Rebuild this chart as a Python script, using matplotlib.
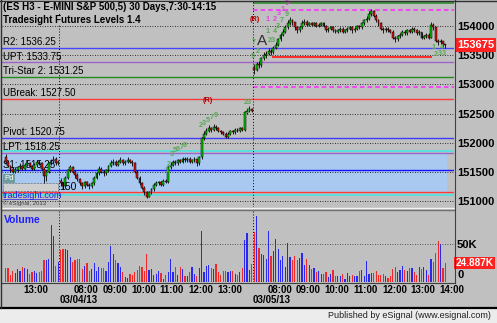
import matplotlib
matplotlib.use("Agg")
import matplotlib.pyplot as plt
from matplotlib.patches import Rectangle
from matplotlib.lines import Line2D
import numpy as np

plt.rcParams["font.family"] = ["Liberation Sans", "DejaVu Sans"]

# ---------------------------------------------------------------------------
# Data (ES H3, 5 minute bars, session 7:30-14:15)
# ---------------------------------------------------------------------------
SESSION_OPEN = 7 * 60 + 30
BARS_PER_DAY = 81

day_dates = ["03/01/13", "03/04/13", "03/05/13"]
day_first_bar = ["12:20", "07:30", "07:30"]
day_first_open = [1517.50, 1513.50, 1532.75]

close_d0 = [1516.75, 1516.00, 1515.50, 1515.00, 1515.25, 1515.75, 1516.00, 1515.50,
            1516.25, 1516.50, 1516.00, 1515.50, 1516.25, 1516.75, 1516.50, 1515.50,
            1514.25, 1515.00, 1516.50, 1516.75, 1517.25, 1516.50, 1516.75]
high_d0 = [1518.00, 1517.00, 1516.25, 1515.75, 1515.75, 1516.00, 1516.50, 1516.25,
           1516.50, 1517.00, 1516.75, 1516.25, 1516.50, 1517.00, 1517.00, 1516.75,
           1515.75, 1515.25, 1516.75, 1517.25, 1517.75, 1517.50, 1517.00]
low_d0 = [1516.50, 1515.75, 1515.00, 1514.75, 1514.75, 1515.00, 1515.50, 1515.25,
          1515.25, 1516.00, 1515.75, 1515.25, 1515.25, 1516.00, 1516.25, 1515.25,
          1512.75, 1513.50, 1514.75, 1516.25, 1516.50, 1516.25, 1516.25]
vol_d0 = [18.6, 18.6, 9.7, 14.0, 12.0, 16.8, 14.0, 20.0, 18.6, 16.8, 10.6, 13.0,
          15.0, 12.0, 13.0, 14.0, 28.7, 28.7, 31.0, 75.0, 60.5, 21.0, 26.5]

close_d1 = [1513.00, 1512.50, 1514.00, 1515.25, 1515.75, 1515.00, 1514.50,
            1513.75, 1513.00, 1512.50, 1513.25, 1512.75, 1512.50, 1513.00,
            1514.00, 1514.75, 1515.50, 1515.00, 1514.75, 1515.25, 1516.00, 1516.50,
            1516.75, 1516.25, 1516.75, 1517.00, 1516.50, 1516.75, 1517.00, 1516.75, 1516.50,
            1515.00, 1514.00, 1513.00, 1512.25, 1511.50, 1510.75, 1511.50,
            1512.00, 1512.75, 1513.00, 1513.25, 1512.75, 1513.50, 1513.25, 1515.75,
            1516.25, 1516.75, 1516.50, 1517.00, 1516.75, 1517.25, 1517.00, 1517.25,
            1516.75, 1517.00, 1517.25, 1516.50, 1517.50,
            1520.75,
            1521.50, 1522.00, 1522.50, 1522.25, 1522.75, 1522.50, 1522.00, 1521.75, 1521.50,
            1521.00, 1521.50, 1522.00, 1521.75, 1522.25, 1522.00, 1522.50, 1522.25,
            1525.25, 1525.50, 1525.75, 1525.50]
high_d1 = [1514.00, 1513.25, 1514.25, 1515.50, 1516.25, 1516.00, 1515.25,
           1514.75, 1514.00, 1513.25, 1513.50, 1513.50, 1513.00, 1513.25,
           1514.25, 1515.00, 1516.00, 1515.75, 1515.25, 1515.50, 1516.25, 1517.00,
           1517.25, 1517.00, 1517.00, 1517.50, 1517.25, 1517.00, 1517.50, 1517.25, 1517.00,
           1516.75, 1515.25, 1514.25, 1513.25, 1512.50, 1511.75, 1511.75,
           1512.25, 1513.00, 1513.50, 1513.50, 1513.50, 1513.75, 1513.75, 1516.00,
           1516.75, 1517.00, 1517.00, 1517.25, 1517.25, 1517.50, 1517.50, 1517.50,
           1517.50, 1517.25, 1517.50, 1517.25, 1517.75,
           1521.00,
           1522.00, 1522.50, 1523.00, 1522.75, 1523.25, 1523.00, 1522.75, 1522.25, 1522.00,
           1521.75, 1521.75, 1522.25, 1522.25, 1522.50, 1522.50, 1522.75, 1522.75,
           1525.50, 1526.00, 1526.25, 1526.00]
low_d1 = [1512.50, 1512.00, 1512.25, 1513.75, 1515.00, 1514.75, 1514.00,
          1513.50, 1512.75, 1512.00, 1512.25, 1512.50, 1512.00, 1512.25,
          1512.75, 1513.75, 1514.50, 1514.75, 1514.25, 1514.50, 1515.00, 1515.75,
          1516.25, 1516.00, 1516.00, 1516.50, 1516.25, 1516.25, 1516.50, 1516.50, 1516.00,
          1514.75, 1513.75, 1512.75, 1512.00, 1511.00, 1510.50, 1510.75,
          1511.25, 1511.75, 1512.50, 1512.75, 1512.50, 1512.50, 1513.00, 1513.00,
          1515.50, 1516.00, 1516.25, 1516.25, 1516.50, 1516.50, 1516.75, 1516.75,
          1516.50, 1516.50, 1516.75, 1516.00, 1516.25,
          1517.25,
          1520.50, 1521.25, 1521.75, 1521.75, 1522.00, 1522.25, 1521.75, 1521.50, 1521.25,
          1520.75, 1520.75, 1521.25, 1521.50, 1521.50, 1521.75, 1521.75, 1522.00,
          1522.00, 1525.00, 1525.25, 1525.25]
vol_d1 = [42.0, 43.8, 43.8, 42.0, 33.0, 26.5, 29.6, 31.0, 31.0, 16.8,
          20.8, 25.0, 14.6, 17.7, 25.6, 15.0, 20.0, 18.6, 18.6, 14.0,
          26.5, 47.7, 37.6, 28.7, 25.6, 19.4, 13.0, 6.6, 5.3, 10.6,
          8.8, 13.0, 15.5, 20.8, 20.0, 14.6, 36.7, 15.5, 16.8, 9.7,
          11.0, 14.6, 12.0, 4.4, 9.7, 13.0, 30.0, 13.0, 20.0, 8.8,
          20.0, 17.7, 8.0, 8.0, 13.0, 20.0, 10.0, 8.0, 18.6, 67.0,
          13.0, 20.8, 22.0, 18.6, 16.8, 24.3, 13.0, 8.8, 14.6, 14.6,
          13.0, 14.0, 14.6, 10.0, 9.7, 13.0, 19.0, 56.0, 65.0, 15.5, 24.0]

close_d2 = [1532.50, 1533.50, 1533.25, 1534.50, 1535.00,
            1535.25, 1535.75, 1535.50, 1536.25, 1536.75,
            1537.75, 1538.50, 1539.00, 1539.75, 1540.50,
            1541.00, 1540.75, 1539.75, 1539.25, 1539.75,
            1540.50, 1540.75, 1540.25, 1540.50,
            1540.25, 1540.50, 1540.00, 1540.25, 1540.50, 1540.00, 1539.25, 1539.50, 1539.75,
            1539.25, 1539.00, 1539.25, 1539.50, 1539.00, 1539.25, 1539.50,
            1539.75, 1539.25, 1539.50, 1540.00, 1539.75,
            1540.50, 1541.00, 1541.25,
            1542.00, 1542.50, 1541.75,
            1541.00, 1540.50,
            1539.50, 1539.25, 1539.50, 1539.25, 1539.00,
            1538.00, 1537.75, 1538.25, 1538.50,
            1539.00, 1538.75, 1539.25, 1539.00, 1539.50, 1539.25, 1538.75, 1539.00,
            1538.00, 1538.25, 1538.50, 1538.00,
            1540.25, 1539.75,
            1537.50,
            1537.25, 1537.50, 1537.00, 1536.75]
high_d2 = [1533.50, 1533.75, 1534.00, 1534.75, 1535.50,
           1535.75, 1536.25, 1536.00, 1536.50, 1537.25,
           1538.00, 1538.75, 1539.50, 1540.25, 1541.00,
           1541.50, 1541.25, 1540.75, 1540.00, 1540.00,
           1541.00, 1541.25, 1541.00, 1540.75,
           1540.75, 1540.75, 1540.75, 1540.50, 1540.75, 1540.75, 1540.25, 1539.75, 1540.00,
           1540.00, 1539.50, 1539.50, 1539.75, 1539.75, 1539.50, 1539.75,
           1540.00, 1540.00, 1539.75, 1540.25, 1540.25,
           1540.75, 1541.25, 1541.75,
           1542.50, 1543.00, 1542.75,
           1542.00, 1541.25,
           1540.75, 1539.75, 1539.75, 1539.75, 1539.50,
           1539.25, 1538.25, 1538.50, 1538.75,
           1539.25, 1539.25, 1539.50, 1539.50, 1539.75, 1539.75, 1539.50, 1539.25,
           1539.00, 1538.50, 1538.75, 1538.75,
           1540.75, 1540.50,
           1539.75,
           1537.75, 1537.75, 1537.50, 1537.00]
low_d2 = [1531.75, 1532.25, 1532.75, 1533.00, 1534.25,
          1534.50, 1535.00, 1535.00, 1535.25, 1536.00,
          1536.50, 1537.50, 1538.25, 1538.75, 1539.50,
          1540.25, 1540.25, 1539.25, 1538.75, 1539.00,
          1539.50, 1540.25, 1540.00, 1540.00,
          1540.00, 1540.00, 1539.75, 1539.75, 1540.00, 1539.75, 1539.00, 1539.00, 1539.25,
          1539.00, 1538.75, 1538.75, 1539.00, 1538.75, 1538.75, 1539.00,
          1539.25, 1538.75, 1539.00, 1539.25, 1539.50,
          1539.50, 1540.25, 1540.75,
          1541.00, 1541.75, 1541.50,
          1540.75, 1540.00,
          1539.25, 1538.75, 1539.00, 1539.00, 1538.75,
          1537.75, 1537.25, 1537.50, 1538.00,
          1538.25, 1538.50, 1538.50, 1538.75, 1538.75, 1539.00, 1538.50, 1538.50,
          1537.75, 1537.75, 1538.00, 1537.75,
          1538.00, 1539.25,
          1537.25,
          1536.75, 1537.00, 1536.25, 1536.25]
vol_d2 = [66.0, 87.5, 45.0, 37.6, 36.0, 30.0, 67.0, 34.5, 40.7, 56.6,
          44.0, 28.7, 34.0, 20.0, 51.7, 33.0, 28.7, 34.0, 28.7, 31.8,
          38.9, 23.0, 31.0, 23.0, 17.0, 18.6, 13.0, 14.0, 10.0, 10.0,
          13.0, 6.6, 10.0, 15.5, 8.0, 8.0, 8.0, 10.0, 4.4, 12.0, 8.0,
          8.8, 8.0, 8.0, 14.6, 15.5, 8.0, 27.8, 11.0, 12.4, 12.0,
          14.6, 8.8, 8.8, 10.0, 8.0, 5.3, 8.0, 17.0, 20.0, 13.0,
          15.5, 20.8, 15.5, 14.6, 18.6, 18.6, 13.0, 8.8, 20.0, 17.7,
          20.0, 15.5, 8.8, 30.0, 26.5, 38.9, 55.0, 50.0, 19.0, 24.887]

closes = [close_d0, close_d1, close_d2]
highs = [high_d0, high_d1, high_d2]
lows = [low_d0, low_d1, low_d2]
volumes = [vol_d0, vol_d1, vol_d2]

# Tradesight levels drawn across the whole chart
level_names = ["R2", "UPT", "Tri-Star 2", "UBreak", "Pivot", "LPT"]
level_values = [1536.25, 1533.75, 1531.25, 1527.50, 1520.75, 1518.25]
level_colors = ["#4646ff", "#a064c8", "#1e8c1e", "#ff3c3c", "#3c3cff", "#9a64c8"]

support_value = 1515.25        # S1 line inside the blue band
band_top, band_bottom = 1518.25, 1511.50
cyan_levels = [1518.50, 1511.00]

# lines that only exist on the current day
magenta_levels = [1542.75, 1529.50]
top_green_level = 1544.00
red_range_level = 1534.75
red_range_times = ["08:10", "13:45"]

tick_times = [["13:00"],
              ["08:00", "09:00", "10:00", "11:00", "12:00", "13:00"],
              ["08:00", "09:00", "10:00", "11:00", "12:00", "13:00", "14:00"]]
price_ticks = [1510, 1515, 1520, 1525, 1530, 1535, 1540]
last_price = 1536.75
last_volume = 24.887

# study markers (x in bar slots, price)
GRN, MAG = "#58a858", "#e048e0"
marks = [
    (85.0, 1527.3, "(R)", "#b00000"), (104.8, 1541.2, "(R)", "#b00000"),
    (68.0, 1515.3, "1", GRN), (68.8, 1516.3, "2", GRN), (70.1, 1517.9, "3", GRN),
    (71.3, 1518.6, "5", GRN), (72.6, 1518.9, "6", GRN), (74.3, 1519.1, "7", GRN),
    (75.5, 1519.6, "9", GRN),
    (82.2, 1522.9, "2", GRN), (83.5, 1523.3, "3", GRN), (85.1, 1523.8, "5", GRN),
    (86.8, 1524.4, "7", GRN), (88.5, 1524.7, "9", GRN),
    (101.5, 1525.3, "1", GRN), (101.6, 1526.9, "23", GRN),
    (104.0, 1534.7, "5", GRN), (104.4, 1537.1, "7", GRN), (106.1, 1535.6, "2", GRN),
    (110.0, 1539.0, "1", GRN), (113.0, 1539.0, "4", GRN),
    (112.0, 1537.6, "23", GRN), (114.4, 1540.0, "3", GRN), (116.1, 1541.0, "7", GRN),
    (118.2, 1541.9, "9", GRN),
    (110.0, 1541.2, "1", MAG), (113.0, 1541.2, "2", MAG), (115.0, 1542.1, "3", MAG),
    (116.5, 1542.9, "1", MAG), (118.2, 1543.8, "5", MAG),
    (179.5, 1536.4, "1", GRN), (183.0, 1536.4, "4", GRN), (180.5, 1535.2, "2", GRN),
    (182.3, 1535.3, "3", GRN), (184.0, 1535.3, "3", GRN),
]

# ---------------------------------------------------------------------------
# Helpers
# ---------------------------------------------------------------------------
def minutes(hhmm):
    h, m = (int(p) for p in hhmm.split(":"))
    return h * 60 + m

FIRST_SLOT = (minutes(day_first_bar[0]) - SESSION_OPEN) / 5


def slot(day, hhmm):
    """x position (in 5 minute bar slots) of a session time"""
    return day * BARS_PER_DAY + (minutes(hhmm) - SESSION_OPEN) / 5 - FIRST_SLOT


xs, o_all, h_all, l_all, c_all, v_all = [], [], [], [], [], []
for d in range(3):
    start = slot(d, day_first_bar[d])
    opens = [day_first_open[d]] + closes[d][:-1]
    for i in range(len(closes[d])):
        xs.append(start + i + 0.5)
        o_all.append(opens[i])
        h_all.append(highs[d][i])
        l_all.append(lows[d][i])
        c_all.append(closes[d][i])
        v_all.append(volumes[d][i])
xs = np.array(xs)
o_all, h_all, l_all, c_all = map(np.array, (o_all, h_all, l_all, c_all))
v_all = np.array(v_all)
up = c_all >= o_all

# ---------------------------------------------------------------------------
# Figure layout (pixel based, 497 x 323)
# ---------------------------------------------------------------------------
W, H = 497, 323
BG = "#c0c0c0"
fx = lambda px: px / W
fy = lambda py: 1 - py / H

fig = plt.figure(figsize=(W / 100, H / 100), dpi=100, facecolor=BG)
ax_p = fig.add_axes([fx(2), fy(207), (454 - 2) / W, (207 - 1) / H], facecolor=BG)
ax_v = fig.add_axes([fx(2), fy(282), (454 - 2) / W, (282 - 210) / H], facecolor=BG)

X_LIM = (-1.05, 188.1)
for ax in (ax_p, ax_v):
    ax.set_xlim(*X_LIM)
    for s in ax.spines.values():
        s.set_visible(False)
ax_p.set_ylim(1508.97, 1544.29)
ax_v.set_ylim(0, 95.5)

day1_start = slot(1, "07:30")
day2_start = slot(2, "07:30")
day2_end = slot(3, "07:30")

# ---- grid: dotted price lines + dot grid at the hours ----
ax_p.hlines(price_ticks, *X_LIM, colors="black", linestyles=(0, (1, 2)),
            lw=0.6, zorder=1.5)
hour_x = [slot(d, t) for d in range(3) for t in tick_times[d]]
minor_p = [p + 2.5 for p in price_ticks]
gx, gy = np.meshgrid(hour_x, minor_p)
ax_p.scatter(gx.ravel(), gy.ravel(), s=0.25, c="#202020", marker="s", lw=0, zorder=1.5)
gx, gy = np.meshgrid(hour_x, [25])
ax_v.scatter(gx.ravel(), gy.ravel(), s=0.25, c="#202020", marker="s", lw=0, zorder=1.5)
ax_v.hlines([50], *X_LIM, colors="#303030", linestyles=(0, (1, 2)), lw=0.6, zorder=1.5)

# ---- levels ----
ax_p.fill_between([X_LIM[0], day2_end], band_bottom, band_top, color="#a9c9f0",
                  lw=0, zorder=0.5)
for val, col in zip(level_values, level_colors):
    ax_p.axhline(val, color=col, lw=1.0, zorder=2)
ax_p.axhline(support_value, color="#1414ff", lw=1.0, zorder=2)
ax_p.axhline(band_bottom, color="#ff3c3c", lw=1.0, zorder=2)
for val in cyan_levels:
    ax_p.axhline(val, color="#40e8e8", lw=1.1, zorder=2)
ax_p.hlines(magenta_levels, day2_start, X_LIM[1], colors="#ff28ff",
            linestyles=(0, (3, 2)), lw=1.1, zorder=2)
ax_p.hlines(top_green_level, day2_start, X_LIM[1], colors="#1e8c1e", lw=1.1, zorder=2)
ax_p.hlines(red_range_level, slot(2, red_range_times[0]), slot(2, red_range_times[1]),
            colors="#ff2020", lw=1.3, zorder=2)

lab_tr = ax_p.get_yaxis_transform()
for name, val in zip(level_names, level_values):
    ax_p.annotate(f"{name}: {val:.2f}", xy=(0, val), xycoords=lab_tr,
                  xytext=(0.8, 0.6), textcoords="offset points",
                  fontsize=7, va="bottom", ha="left", color="black", zorder=3)
ax_p.annotate(f"S1: {support_value:.2f}", xy=(0, support_value), xycoords=lab_tr,
              xytext=(0.8, 0.6), textcoords="offset points",
              fontsize=7, va="bottom", ha="left", color="black", zorder=3)

# day separators
for ax in (ax_p, ax_v):
    for x in (day1_start, day2_start):
        ax.axvline(x, color="black", ls=(0, (1, 2)), lw=0.7, zorder=2.5)

# ---- candles ----
ax_p.vlines(xs, l_all, h_all, colors="black", lw=0.6, zorder=4)
body_lo = np.minimum(o_all, c_all)
body_h = np.maximum(np.abs(c_all - o_all), 0.06)
ax_p.bar(xs, body_h, bottom=body_lo, width=0.8,
         color=np.where(up, "#00c800", "#e01010"),
         edgecolor="black", lw=0.35, zorder=5)

for x, y, txt, col in marks:
    ax_p.text(x, y, txt, fontsize=5.2, color=col, ha="center", va="center",
              fontweight="bold", zorder=6)
ax_p.text(107.9, 1537.4, "A", fontsize=11, color="#303030", ha="center",
          va="center", zorder=6)

# ---- volume ----
ax_v.bar(xs, v_all, width=0.5, color=np.where(up, "#2828f0", "#f02828"),
         lw=0, zorder=3)
ax_v.text(0.005, 0.93, "Volume", transform=ax_v.transAxes, fontsize=7.5,
          fontweight="bold", color="#2020ff", va="top", ha="left")

# ---- right axes ----
ax_p.yaxis.tick_right()
ax_p.set_yticks(price_ticks)
ax_p.set_yticklabels([f"{int(round(p * 100))}" for p in price_ticks])
ax_p.tick_params(axis="y", length=0, pad=2.2, labelsize=8)
ax_p.set_xticks([])
for lbl in ax_p.get_yticklabels():
    lbl.set_fontweight("bold")

ax_p.annotate(f"{int(round(last_price * 100))}", xy=(1, last_price), xycoords=lab_tr,
              xytext=(2.3, 0), textcoords="offset points", fontsize=8,
              fontweight="bold", color="white", va="center", ha="left",
              bbox=dict(boxstyle="square,pad=0.15", fc="#ff2020", ec="none"),
              annotation_clip=False)

ax_v.yaxis.tick_right()
ax_v.set_yticks([50])
ax_v.set_yticklabels(["50K"])
ax_v.tick_params(axis="y", length=0, pad=2.2, labelsize=8)
for lbl in ax_v.get_yticklabels():
    lbl.set_fontweight("bold")
vol_tr = ax_v.get_yaxis_transform()
ax_v.annotate("0", xy=(1, 0), xycoords=vol_tr, xytext=(2.3, 1.5),
              textcoords="offset points", fontsize=8, fontweight="bold",
              va="bottom", ha="left", annotation_clip=False)
ax_v.annotate(f"{last_volume:.3f}K", xy=(1, last_volume), xycoords=vol_tr,
              xytext=(1.2, 0), textcoords="offset points", fontsize=7.2,
              fontweight="bold", color="white", va="center", ha="left",
              bbox=dict(boxstyle="square,pad=0.12", fc="#ff2020", ec="none"),
              annotation_clip=False)

# ---- time axis ----
ax_v.set_xticks(hour_x)
ax_v.set_xticklabels([t for d in range(3) for t in tick_times[d]])
ax_v.tick_params(axis="x", length=0, pad=2.0, labelsize=7)
for lbl in ax_v.get_xticklabels():
    lbl.set_fontweight("bold")
    lbl.set_ha("left")
date_tr = matplotlib.transforms.blended_transform_factory(ax_v.transData, fig.transFigure)
for d in (1, 2):
    ax_v.text(slot(d, "07:30"), fy(300), day_dates[d], transform=date_tr,
              fontsize=7, fontweight="bold", ha="left", va="center")

# ---- header, watermark texts ----
fig.text(fx(3), fy(7), "(ES H3 - E-MINI S&P 500,5) 30 Days,7:30-14:15", fontsize=7,
         fontweight="bold", va="center", ha="left",
         bbox=dict(boxstyle="square,pad=0.05", fc=BG, ec="none"))
fig.text(fx(3), fy(20), "Tradesight Futures Levels 1.4", fontsize=7,
         fontweight="bold", va="center", ha="left",
         bbox=dict(boxstyle="square,pad=0.05", fc=BG, ec="none"))
fig.text(fx(4), fy(178.5), "Pd", fontsize=5.5, color="white", va="center", ha="left",
         bbox=dict(boxstyle="square,pad=0.15", fc="#6f9d9d", ec="none"))
fig.add_artist(Rectangle((fx(3), fy(191)), fx(55), 8 / H, transform=fig.transFigure,
                         fc="#cfcfcf", ec="black", lw=0.4, ls=":"))
fig.text(fx(59), fy(187.5), "150", fontsize=7.5, va="center", ha="left")
fig.text(fx(3), fy(195), "tradesight.com", fontsize=6.5, color="#2020e0",
         va="center", ha="left")
fig.add_artist(Line2D([fx(3), fx(57)], [fy(199), fy(199)], color="#2020e0", lw=0.5))
fig.text(fx(3), fy(203.5), "\u00a9 eSignal, 2013", fontsize=4.3, color="#404040",
         va="center", ha="left")

# ---- frame lines ----
def fline(x0, y0, x1, y1, color, lw):
    fig.add_artist(Line2D([fx(x0), fx(x1)], [fy(y0), fy(y1)], color=color, lw=lw))

fline(2, 208, 454, 208, "#f4f4f4", 1.0)
fline(2, 209.5, 454, 209.5, "#707070", 1.0)
fline(454.5, 0, 454.5, 282.5, "#404040", 0.8)
fline(2, 282.5, 454.5, 282.5, "#404040", 0.8)

fig.add_artist(Rectangle((0, 0), 1, 15 / H, transform=fig.transFigure,
                         fc="#ececec", ec="none"))
fline(0, 308, W, 308, "black", 1.6)
fline(0.5, 0, 0.5, 308, "#303030", 1.0)
fline(0, 0.5, W, 0.5, "#303030", 1.0)
fig.text(fx(491), fy(315.5), "Published by eSignal (www.esignal.com)", fontsize=6.5,
         ha="right", va="center", color="#202020")

fig.savefig("out.png", dpi=100, facecolor=BG)
